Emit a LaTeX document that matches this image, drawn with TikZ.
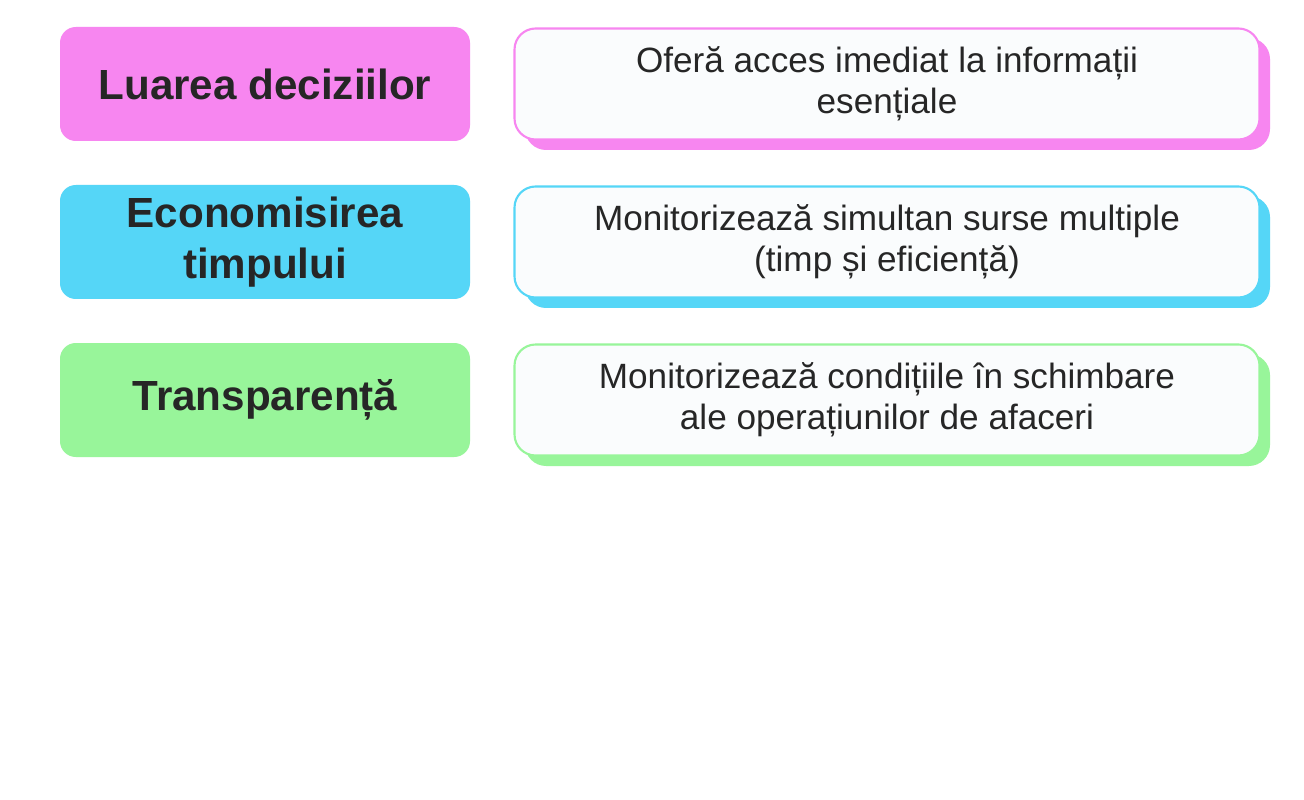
\documentclass[tikz,border=0pt]{standalone}
\usepackage{fontspec}
\setmainfont{Liberation Sans}
\usetikzlibrary{positioning}
\definecolor{pinkbox}{RGB}{247,134,240}
\definecolor{bluebox}{RGB}{85,214,247}
\definecolor{greenbox}{RGB}{152,245,154}
\definecolor{cardfill}{RGB}{250,252,253}
\tikzset{
  topic/.style={rounded corners=9pt, minimum width=410*0.02cm, minimum height=114*0.02cm,
    align=center, font=\fontsize{24}{29}\selectfont\bfseries, text=black!85},
  card/.style={rounded corners=12pt, draw, line width=1.2pt, fill=cardfill, minimum width=745*0.02cm,
    minimum height=111*0.02cm, align=center, font=\fontsize{20}{23.5}\selectfont, text=black!85}
}
\begin{document}
\begin{tikzpicture}[x=0.02cm,y=-0.02cm]
  \useasboundingbox (0,0) rectangle (1304,800);
  \fill[white] (0,0) rectangle (1304,800);

  \foreach \name/\col/\y/\left/\right in {
      dec/pinkbox/84/{Luarea deciziilor}/{Oferă acces imediat la informații\\esențiale},
      eco/bluebox/242/{Economisirea\\timpului}/{Monitorizează simultan surse multiple\\(timp și eficiență)},
      tra/greenbox/400/{Transparență}/{Monitorizează condițiile în schimbare\\ale operațiunilor de afaceri}}{
    \node[topic, fill=\col] (\name) at (265,\y) {\left};
    \fill[\col, rounded corners=12pt] (897,\y) ++(-372,-46) rectangle ++(745,112);
    \node[card, draw=\col] (\name-txt) at (887,\y) {\right};
  }
\end{tikzpicture}
\end{document}
